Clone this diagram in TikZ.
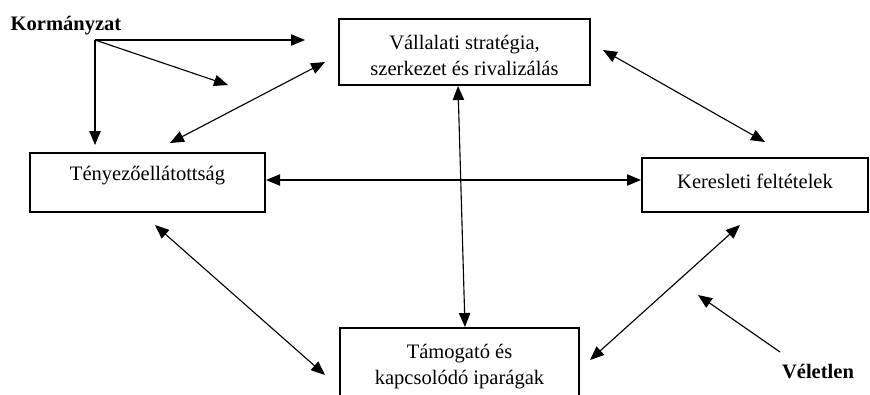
\documentclass[tikz,border=0pt]{standalone}
\usepackage{fontspec}
\setmainfont{Liberation Serif}
\usetikzlibrary{arrows.meta}
\begin{document}
\begin{tikzpicture}[x=0.75pt,y=-0.75pt,
  boxnode/.style={draw,line width=1.5pt,rectangle,inner sep=0pt},
  txt/.style={font=\fontsize{15.4pt}{19.5pt}\selectfont,align=center,inner sep=0pt},
  bold/.style={font=\fontsize{15.4pt}{19pt}\selectfont\bfseries,inner sep=0pt},
  tip/.style={},
  arr/.style={line width=0.85pt,-{Triangle[length=10.5pt,width=8.5pt]}},
  darr/.style={line width=0.85pt,{Triangle[length=10.5pt,width=8.5pt]}-{Triangle[length=10.5pt,width=8.5pt]}}]
\useasboundingbox (0,0) rectangle (870,394);
\clip (0,0) rectangle (870,394);
% boxes
\node[boxnode,minimum width=188.25pt,minimum height=49.5pt] (top) at (464.5,52) {};
\node[boxnode,minimum width=176.25pt,minimum height=44.25pt] (left) at (147.5,182.5) {};
\node[boxnode,minimum width=169.5pt,minimum height=40.5pt] (right) at (755,185) {};
\node[boxnode,minimum width=179.25pt,minimum height=57.75pt] (bottom) at (459.5,366.5) {};
% texts
\node[txt] (toptext) at (464.5,55) {Vállalati stratégia,\\szerkezet és rivalizálás};
\node[txt] (lefttext) at (147.5,176) {Tényezőellátottság};
\node[txt] (righttext) at (755,181) {Keresleti feltételek};
\node[txt] (bottomtext) at (459.5,367) {Támogató és\\kapcsolódó iparágak};
\node[bold] (kor) at (66,26) {Kormányzat};
\node[bold] (vel) at (818,372) {Véletlen};
% connector points
\coordinate (k0) at (95,40);
\coordinate (k1) at (305,40);
\coordinate (k2) at (228,85);
\coordinate (k3) at (95,145);
\coordinate (v0) at (780,352);
\coordinate (v1) at (698,295);
% arrows
\draw[arr] (k0) -- (k1);
\draw[arr] (k0) -- (k2);
\draw[arr] (k0) -- (k3);
\draw[darr] (170,143) -- (325,62);
\draw[darr] (top.south -| 458,0) -- (bottom.north -| 465,0);
\draw[darr] (603,50) -- (765,142);
\draw[darr] (left.east) ++(0,-2.5) coordinate (le) (le) -- (right.west |- le);
\draw[darr] (155,225) -- (325,375);
\draw[darr] (740,225) -- (590,360);
\draw[arr] (v0) -- (v1);
\end{tikzpicture}
\end{document}
